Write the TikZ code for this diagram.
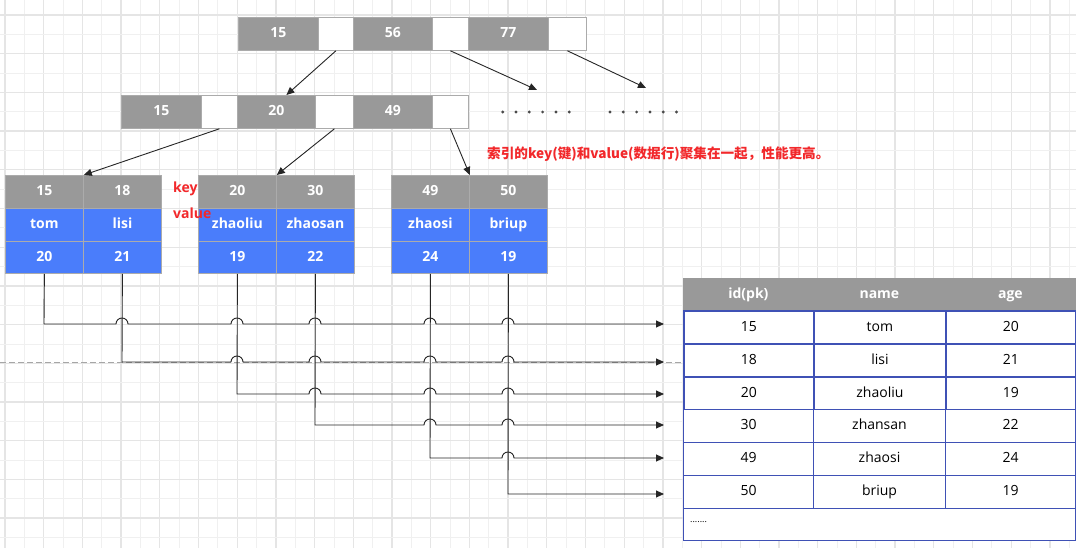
\documentclass[tikz,border=0pt]{standalone}
\usepackage{fontspec}
\setmainfont{Open Sans}
\newfontfamily\cjk{Noto Sans CJK SC}
\usetikzlibrary{arrows.meta}
\definecolor{nodegray}{HTML}{999999}
\definecolor{cellline}{HTML}{ABABAB}
\definecolor{leafblue}{HTML}{4A7DFB}
\definecolor{redtxt}{HTML}{F2282B}
\definecolor{tblue}{HTML}{3F51B5}
\definecolor{gridthin}{HTML}{F0F0F0}
\definecolor{gridthick}{HTML}{E5E5E5}
\definecolor{dotgray}{HTML}{4A4A4A}
\begin{document}
\begin{tikzpicture}[x=1pt,y=-1pt,
  cell/.style={draw=cellline, line width=0.8pt, inner sep=0pt, anchor=north west, text height=10.5pt, text depth=3pt, font=\fontsize{14}{16}\selectfont\bfseries},
  keycell/.style={cell, fill=nodegray, text=white},
  ptrcell/.style={cell, fill=white},
  bluecell/.style={cell, fill=leafblue, text=white},
  hdrcell/.style={draw=nodegray, fill=nodegray, text=white, line width=0.8pt, inner sep=0pt, anchor=north west, text height=10.5pt, text depth=3pt, font=\fontsize{14}{16}\selectfont\bfseries},
  tcellA/.style={draw=tblue, fill=white, line width=1.8pt, inner sep=0pt, anchor=north west, text height=10.5pt, text depth=3pt, font=\fontsize{14}{16}\selectfont},
  tcellB/.style={draw=tblue, fill=white, line width=1pt, inner sep=0pt, anchor=north west, text height=10.5pt, text depth=3pt, font=\fontsize{14}{16}\selectfont},
  arr/.style={draw=black!85, line width=0.9pt, -{Triangle[length=8pt,width=7pt]}},
  conn/.style={draw=black!85, line width=0.9pt, -{Triangle[length=8pt,width=7pt]}},
  redlabel/.style={text=redtxt, font=\fontsize{14}{16}\selectfont\bfseries, inner sep=0pt, anchor=west},
  dot/.style={circle, fill=dotgray, inner sep=0pt, minimum size=3.2pt}
]
\useasboundingbox (0,0) rectangle (1076,548);
\fill[white] (0,0) rectangle (1076,548);
% grid
\foreach \k in {0,...,27} {
  \draw[gridthick, line width=1.3pt] ({5+38.7*\k},0) -- ({5+38.7*\k},548);
  \draw[gridthin, line width=0.9pt] ({24.35+38.7*\k},0) -- ({24.35+38.7*\k},548);
}
\foreach \k in {0,...,13} {
  \draw[gridthick, line width=1.3pt] (0,{15+38.7*\k}) -- (1076,{15+38.7*\k});
  \draw[gridthin, line width=0.9pt] (0,{34.35+38.7*\k}) -- (1076,{34.35+38.7*\k});
}
\draw[black!35, line width=0.8pt, dash pattern=on 6pt off 3pt] (0,362) -- (683,362);

% top node
\node[keycell, minimum width=80pt, minimum height=33pt] (t15) at (238,17) {15};
\node[ptrcell, minimum width=35pt, minimum height=33pt] (tp1) at (318,17) {};
\node[keycell, minimum width=79pt, minimum height=33pt] (t56) at (353,17) {56};
\node[ptrcell, minimum width=36pt, minimum height=33pt] (tp2) at (432,17) {};
\node[keycell, minimum width=80pt, minimum height=33pt] (t77) at (468,17) {77};
\node[ptrcell, minimum width=38pt, minimum height=33pt] (tp3) at (548,17) {};

% second level
\node[keycell, minimum width=80pt, minimum height=33pt] (s15) at (121,95) {15};
\node[ptrcell, minimum width=36pt, minimum height=33pt] (sp1) at (201,95) {};
\node[keycell, minimum width=78pt, minimum height=33pt] (s20) at (237,95) {20};
\node[ptrcell, minimum width=38pt, minimum height=33pt] (sp2) at (315,95) {};
\node[keycell, minimum width=79pt, minimum height=33pt] (s49) at (353,95) {49};
\node[ptrcell, minimum width=36pt, minimum height=33pt] (sp3) at (432,95) {};

% dots
\foreach \i in {0,...,5} {
  \node[dot] (da\i) at ({502.7+13.3*\i},112) {};
  \node[dot] (db\i) at ({610+13.3*\i},112) {};
}

% leaves
\foreach \nm/\x/\ka/\kb/\na/\nb/\aa/\ab in {1/5/15/18/tom/lisi/20/21, 2/198/20/30/zhaoliu/zhaosan/19/22, 3/391/49/50/zhaosi/briup/24/19} {
  \node[keycell, minimum width=78pt, minimum height=33pt] (l\nm k1) at (\x,175) {\ka};
  \node[keycell, minimum width=78pt, minimum height=33pt] (l\nm k2) at ({\x+78},175) {\kb};
  \node[bluecell, minimum width=78pt, minimum height=33pt] (l\nm n1) at (\x,208) {\na};
  \node[bluecell, minimum width=78pt, minimum height=33pt] (l\nm n2) at ({\x+78},208) {\nb};
  \node[bluecell, minimum width=78pt, minimum height=32pt] (l\nm v1) at (\x,241) {\aa};
  \node[bluecell, minimum width=78pt, minimum height=32pt] (l\nm v2) at ({\x+78},241) {\ab};
}

% labels
\node[redlabel] (lkey) at (173,189) {key};
\node[redlabel] (lval) at (173,213) {value};
\node[redlabel, font=\cjk\fontsize{13.6}{16}\selectfont\bfseries] (note) at (487,154) {索引的key(键)和value(数据行)聚集在一起，性能更高。};

% tree arrows
\coordinate (d1) at (537,90);
\coordinate (d2) at (646,88);
\draw[arr] (tp1.south) -- ([xshift=10pt]s20.north);
\draw[arr] (tp2.south) -- (d1);
\draw[arr] (tp3.south) -- (d2);
\draw[arr] (sp1.south) -- (l1k1.north east);
\draw[arr] (sp2.south) -- (l2k1.north east);
\draw[arr] (sp3.south) -- (l3k1.north east);

% connectors to table
\coordinate (e1) at (664,324);
\coordinate (e2) at (664,362);
\coordinate (e3) at (664,394);
\coordinate (e4) at (664,425);
\coordinate (e5) at (664,458);
\coordinate (e6) at (664,494);
\draw[conn] (l1v1.south) -- (44,324) -- (116,324) arc[start angle=180,end angle=0,radius=6pt]
  -- (231,324) arc[start angle=180,end angle=0,radius=6pt]
  -- (309,324) arc[start angle=180,end angle=0,radius=6pt]
  -- (424,324) arc[start angle=180,end angle=0,radius=6pt]
  -- (502,324) arc[start angle=180,end angle=0,radius=6pt] -- (e1);
\draw[conn] (l1v2.south) -- (122,362)
  -- (231,362) arc[start angle=180,end angle=0,radius=6pt]
  -- (309,362) arc[start angle=180,end angle=0,radius=6pt]
  -- (424,362) arc[start angle=180,end angle=0,radius=6pt]
  -- (502,362) arc[start angle=180,end angle=0,radius=6pt] -- (e2);
\draw[conn] (l2v1.south) -- (237,394)
  -- (309,394) arc[start angle=180,end angle=0,radius=6pt]
  -- (424,394) arc[start angle=180,end angle=0,radius=6pt]
  -- (502,394) arc[start angle=180,end angle=0,radius=6pt] -- (e3);
\draw[conn] (l2v2.south) -- (315,425)
  -- (424,425) arc[start angle=180,end angle=0,radius=6pt]
  -- (502,425) arc[start angle=180,end angle=0,radius=6pt] -- (e4);
\draw[conn] (l3v1.south) -- (430,458)
  -- (502,458) arc[start angle=180,end angle=0,radius=6pt] -- (e5);
\draw[conn] (l3v2.south) -- (508,494) -- (e6);

% table
\node[hdrcell, minimum width=130pt, minimum height=32pt] (h1) at (683,278) {id(pk)};
\node[hdrcell, minimum width=132pt, minimum height=32pt] (h2) at (813,278) {name};
\node[hdrcell, minimum width=130pt, minimum height=32pt] (h3) at (945,278) {age};
\foreach \r/\y/\st/\a/\b/\c in {1/310/tcellA/15/tom/20, 2/343/tcellA/18/lisi/21, 3/376/tcellA/20/zhaoliu/19, 4/409/tcellB/30/zhansan/22, 5/442/tcellB/49/zhaosi/24, 6/475/tcellB/50/briup/19} {
  \node[\st, minimum width=130pt, minimum height=33pt] (r\r a) at (683,\y) {\a};
  \node[\st, minimum width=132pt, minimum height=33pt] (r\r b) at (813,\y) {\b};
  \node[\st, minimum width=130pt, minimum height=33pt] (r\r c) at (945,\y) {\c};
}
\node[tcellB, minimum width=392pt, minimum height=32pt] (rlast) at (683,508) {};
\node[anchor=west, inner sep=0pt, font=\fontsize{9}{10}\selectfont] (dotsl) at (690,522) {.......};
\end{tikzpicture}
\end{document}
